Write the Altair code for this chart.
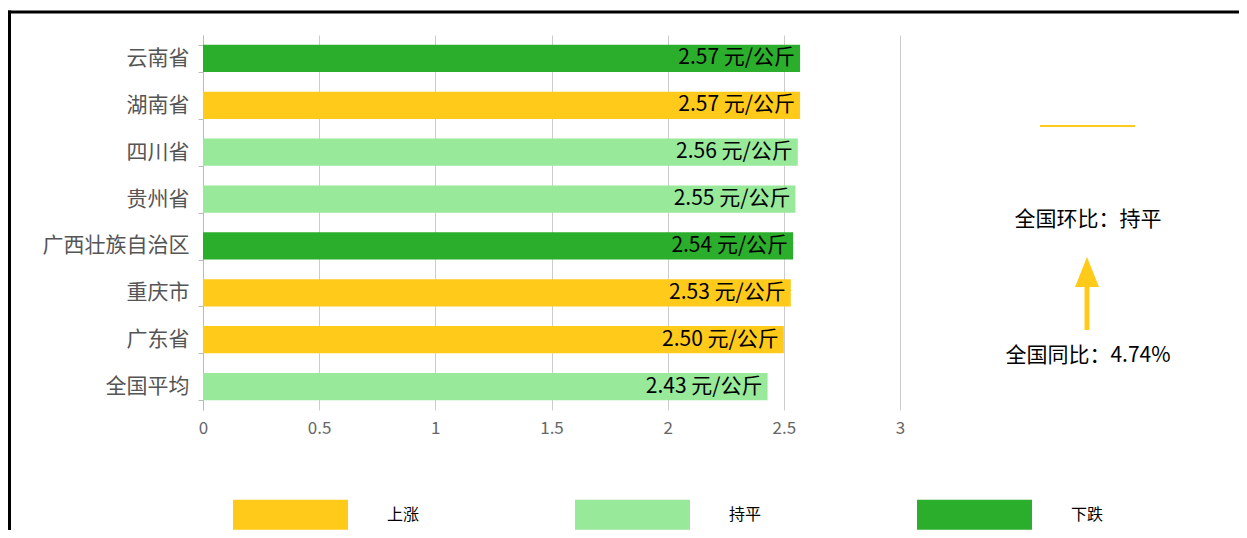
import altair as alt
import pandas as pd

# ---- data ----
regions = ["云南省", "湖南省", "四川省", "贵州省", "广西壮族自治区", "重庆市", "广东省", "全国平均"]
prices = [2.57, 2.57, 2.56, 2.55, 2.54, 2.53, 2.50, 2.43]
trends = ["下跌", "上涨", "持平", "持平", "下跌", "上涨", "上涨", "持平"]
trend_order = ["上涨", "持平", "下跌"]
trend_colors = ["#FFCA1A", "#98E99A", "#2BAE2B"]
x_ticks = [0, 0.5, 1, 1.5, 2, 2.5, 3]
unit = "元/公斤"
mom_text = "全国环比：持平"
yoy_text = "全国同比：4.74%"

df = pd.DataFrame({"region": regions, "price": prices, "trend": trends})
df["label"] = [f"{p:.2f} {unit}" for p in prices]

FONT = "Noto Sans CJK SC"
YELLOW = "#FFCA1A"
W, H = 697, 375

x_enc = alt.X(
    "price:Q",
    scale=alt.Scale(domain=[0, 3], nice=False),
    axis=alt.Axis(values=x_ticks, format=".1~f", title=None, domain=False, ticks=False, grid=True,
                  gridColor="#cccccc", gridWidth=1, labelColor="#666666", labelFontSize=17,
                  labelPadding=10, labelFont=FONT, labelFlush=False),
)
y_enc = alt.Y(
    "region:N", sort=regions,
    scale=alt.Scale(paddingInner=0.42, paddingOuter=0.21),
    axis=alt.Axis(title=None, domainColor="#bbbbbb", tickColor="#bbbbbb", tickSize=5,
                  tickBand="extent", labelColor="#555555", labelFontSize=21,
                  labelPadding=9, labelFont=FONT, grid=False),
)
color_enc = alt.Color(
    "trend:N",
    scale=alt.Scale(domain=trend_order, range=trend_colors),
    legend=alt.Legend(title=None, orient="none", legendX=30, legendY=422, direction="horizontal",
                      symbolType="M-1,-0.26H1V0.26H-1Z", symbolSize=13225, symbolStrokeWidth=0,
                      symbolOpacity=1, labelFontSize=16, labelColor="#000000", labelFont=FONT,
                      labelOffset=39, columnPadding=155),
)

base = alt.Chart(df)
bars = base.mark_bar(opacity=1).encode(x=x_enc, y=y_enc, color=color_enc)
texts = base.mark_text(align="right", baseline="middle", dx=-5, fontSize=21, font=FONT,
                       color="#000000").encode(x="price:Q", y=alt.Y("region:N", sort=regions), text="label:N")

one = pd.DataFrame({"k": [0]})
yline = alt.Chart(one).mark_rule(color=YELLOW, strokeWidth=2).encode(
    x=alt.value(837), x2=alt.value(932), y=alt.value(91))
mom = alt.Chart(pd.DataFrame({"t": [mom_text]})).mark_text(
    fontSize=21, font=FONT, color="#000000", align="center", baseline="middle").encode(
    x=alt.value(885), y=alt.value(185), text="t:N")
shaft = alt.Chart(one).mark_rule(color=YELLOW, strokeWidth=5).encode(
    x=alt.value(884), y=alt.value(250), y2=alt.value(295))
head = alt.Chart(one).mark_point(shape="M0,-1L0.8,1L-0.8,1Z", size=900, filled=True,
                                 color=YELLOW, opacity=1).encode(x=alt.value(884), y=alt.value(237))
yoy = alt.Chart(pd.DataFrame({"t": [yoy_text]})).mark_text(
    fontSize=21, font=FONT, color="#000000", align="center", baseline="middle").encode(
    x=alt.value(885), y=alt.value(321), text="t:N")

border_top = alt.Chart(one).mark_rule(color="#000000", strokeWidth=3).encode(
    x=alt.value(-195), x2=alt.value(1045), y=alt.value(-23))
border_left = alt.Chart(one).mark_rule(color="#000000", strokeWidth=3).encode(
    x=alt.value(-193.5), y=alt.value(-24.5), y2=alt.value(500))

chart = alt.layer(bars, texts, yline, mom, shaft, head, yoy, border_top, border_left).properties(
    width=W, height=H,
    autosize=alt.AutoSizeParams(type="none"),
    padding={"left": 195, "top": 27, "right": 339, "bottom": 120},
).configure_view(stroke=None)

chart.save("out.html", embed_options={"renderer": "svg", "actions": False})
